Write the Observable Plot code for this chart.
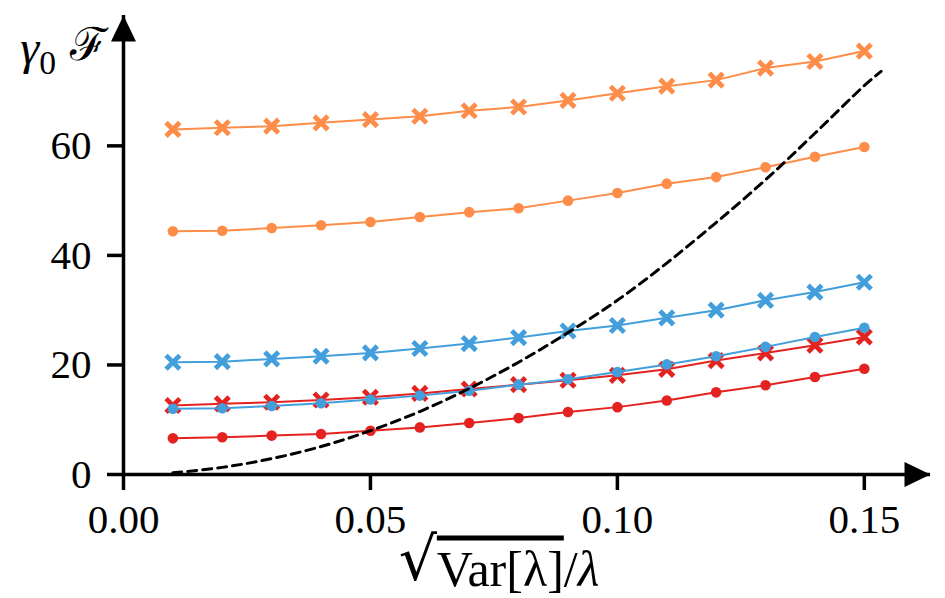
<!DOCTYPE html>
<html>
<head>
<meta charset="utf-8">
<script src="https://cdn.jsdelivr.net/npm/d3@7"></script>
<script src="https://cdn.jsdelivr.net/npm/@observablehq/plot@0.6"></script>
<style>
  html, body { margin: 0; padding: 0; background: white; }
</style>
</head>
<body>
<div id="chart"></div>
<script>
// ---- data ----
const xValues = [0.01, 0.02, 0.03, 0.04, 0.05, 0.06, 0.07, 0.08, 0.09, 0.10, 0.11, 0.12, 0.13, 0.14, 0.15];
const orangeCross = [63.0, 63.3, 63.6, 64.2, 64.8, 65.4, 66.4, 67.1, 68.3, 69.6, 70.9, 72.0, 74.2, 75.4, 77.3];
const orangeDot   = [44.4, 44.5, 45.0, 45.5, 46.1, 47.0, 47.9, 48.6, 50.0, 51.4, 53.1, 54.3, 56.1, 58.0, 59.8];
const blueCross   = [20.5, 20.6, 21.1, 21.6, 22.2, 23.0, 23.9, 25.0, 26.2, 27.2, 28.6, 30.0, 31.8, 33.3, 35.1];
const blueDot     = [12.0, 12.1, 12.5, 13.0, 13.7, 14.4, 15.3, 16.4, 17.4, 18.7, 20.1, 21.6, 23.3, 25.1, 26.8];
const redCross    = [12.6, 12.9, 13.2, 13.6, 14.1, 14.8, 15.6, 16.4, 17.2, 18.1, 19.2, 20.8, 22.2, 23.6, 25.1];
const redDot      = [6.6, 6.8, 7.1, 7.4, 8.0, 8.6, 9.4, 10.3, 11.4, 12.3, 13.5, 15.0, 16.3, 17.8, 19.3];
const dashX = [0.01, 0.02, 0.03, 0.04, 0.05, 0.06, 0.07, 0.08, 0.09, 0.10, 0.11, 0.12, 0.13, 0.14, 0.15, 0.1534];
const dashY = [0.3, 1.3, 2.9, 5.1, 8.0, 11.5, 15.7, 20.5, 25.9, 31.8, 38.6, 46.0, 53.8, 62.3, 71.0, 73.6];
const xTicks = [0, 0.05, 0.10, 0.15];
const yTicks = [0, 20, 40, 60];
const xDomain = [0, 0.1634];
const yDomain = [0, 83.8];
const yLabel = "γ0 ℱ";
const xLabel = "√Var[λ]/λ";

const colors = { orange: "#fd8d49", blue: "#439fdb", red: "#e42220" };
const serif = "'Liberation Serif', 'DejaVu Serif', serif";

const seriesDefs = [
  { name: "redDot", values: redDot, color: colors.red, marker: "dot" },
  { name: "redCross", values: redCross, color: colors.red, marker: "cross" },
  { name: "blueDot", values: blueDot, color: colors.blue, marker: "dot" },
  { name: "blueCross", values: blueCross, color: colors.blue, marker: "cross" },
  { name: "orangeDot", values: orangeDot, color: colors.orange, marker: "dot" },
  { name: "orangeCross", values: orangeCross, color: colors.orange, marker: "cross" }
];

const rows = seriesDefs.flatMap(s => s.values.map((v, i) => ({
  series: s.name, x: xValues[i], y: v, color: s.color, marker: s.marker
})));
const dashRows = dashX.map((x, i) => ({ x, y: dashY[i] }));

// arrowhead symbol (tip at the anchor point, pointing up)
const arrowUp = {
  draw(context) {
    context.moveTo(0, 0);
    context.lineTo(-12.5, 26);
    context.lineTo(12.5, 26);
    context.closePath();
  }
};

const seriesMarks = seriesDefs.flatMap(s => {
  const data = rows.filter(r => r.series === s.name);
  const line = Plot.line(data, { x: "x", y: "y", stroke: s.color, strokeWidth: 2 });
  const marker = s.marker === "dot"
    ? Plot.dot(data, { x: "x", y: "y", fill: s.color, r: 5.3, stroke: "none" })
    : Plot.dot(data, { x: "x", y: "y", stroke: s.color, symbol: "times", r: 6.3, strokeWidth: 4.8 });
  return [line, marker];
});

const plot = Plot.plot({
  width: 945,
  height: 598,
  marginLeft: 123,
  marginRight: 15,
  marginTop: 15,
  marginBottom: 124,
  style: { fontFamily: serif, background: "white", color: "black" },
  x: { domain: xDomain },
  y: { domain: yDomain },
  marks: [
    Plot.axisX({ ticks: xTicks, tickFormat: d3.format(".2f"), tickSize: 16, strokeWidth: 3.5, fontSize: 41, fontFamily: serif, tickPadding: 13, label: null }),
    Plot.axisY({ ticks: yTicks, tickFormat: d3.format("d"), tickSize: 16, strokeWidth: 3.5, fontSize: 41, fontFamily: serif, tickPadding: 16, label: null }),
    ...seriesMarks,
    Plot.line(dashRows, { x: "x", y: "y", stroke: "black", strokeWidth: 3, strokeDasharray: "9,6", curve: "catmull-rom" }),
    Plot.ruleY([yDomain[0]], { stroke: "black", strokeWidth: 3.5 }),
    Plot.ruleX([xDomain[0]], { stroke: "black", strokeWidth: 3.5 }),
    Plot.dot([{ x: xDomain[0], y: yDomain[1] }], { x: "x", y: "y", symbol: arrowUp, fill: "black", stroke: "none", r: 1 }),
    Plot.dot([{ x: xDomain[1], y: yDomain[0] }], { x: "x", y: "y", symbol: arrowUp, fill: "black", stroke: "none", r: 1, rotate: 90 }),
    Plot.text([yLabel], { text: d => d, frameAnchor: "top-left", textAnchor: "end", lineAnchor: "bottom", dx: -15, dy: 48, fontSize: 48, fontFamily: serif }),
    Plot.text([xLabel], { text: d => d, frameAnchor: "bottom", textAnchor: "middle", lineAnchor: "bottom", dx: -28, dy: 111, fontSize: 50, fontFamily: serif })
  ]
});

// math-style formatting of the two labels
const svg = d3.select(plot);
svg.selectAll("text").filter(function () { return this.textContent === yLabel; }).each(function () {
  const t = d3.select(this);
  t.text(null);
  t.append("tspan").attr("font-style", "italic").text("γ");
  t.append("tspan").attr("font-size", "0.7em").attr("dy", "0.3em").text("0");
  t.append("tspan").attr("dy", "-0.3em").attr("font-family", "'DejaVu Serif', serif").attr("font-size", "0.95em").text(" ℱ");
});
svg.selectAll("text").filter(function () { return this.textContent === xLabel; }).each(function () {
  const t = d3.select(this);
  t.text(null);
  t.append("tspan").attr("font-family", "'DejaVu Serif', serif").attr("font-size", "1.2em").attr("dy", "-0.1em").text("√");
  t.append("tspan").attr("dy", "0.12em").style("text-decoration", "overline").text("Var[λ]");
  t.append("tspan").text("/");
  t.append("tspan").attr("font-style", "italic").text("λ");
});

document.getElementById("chart").appendChild(plot);
</script>
</body>
</html>
